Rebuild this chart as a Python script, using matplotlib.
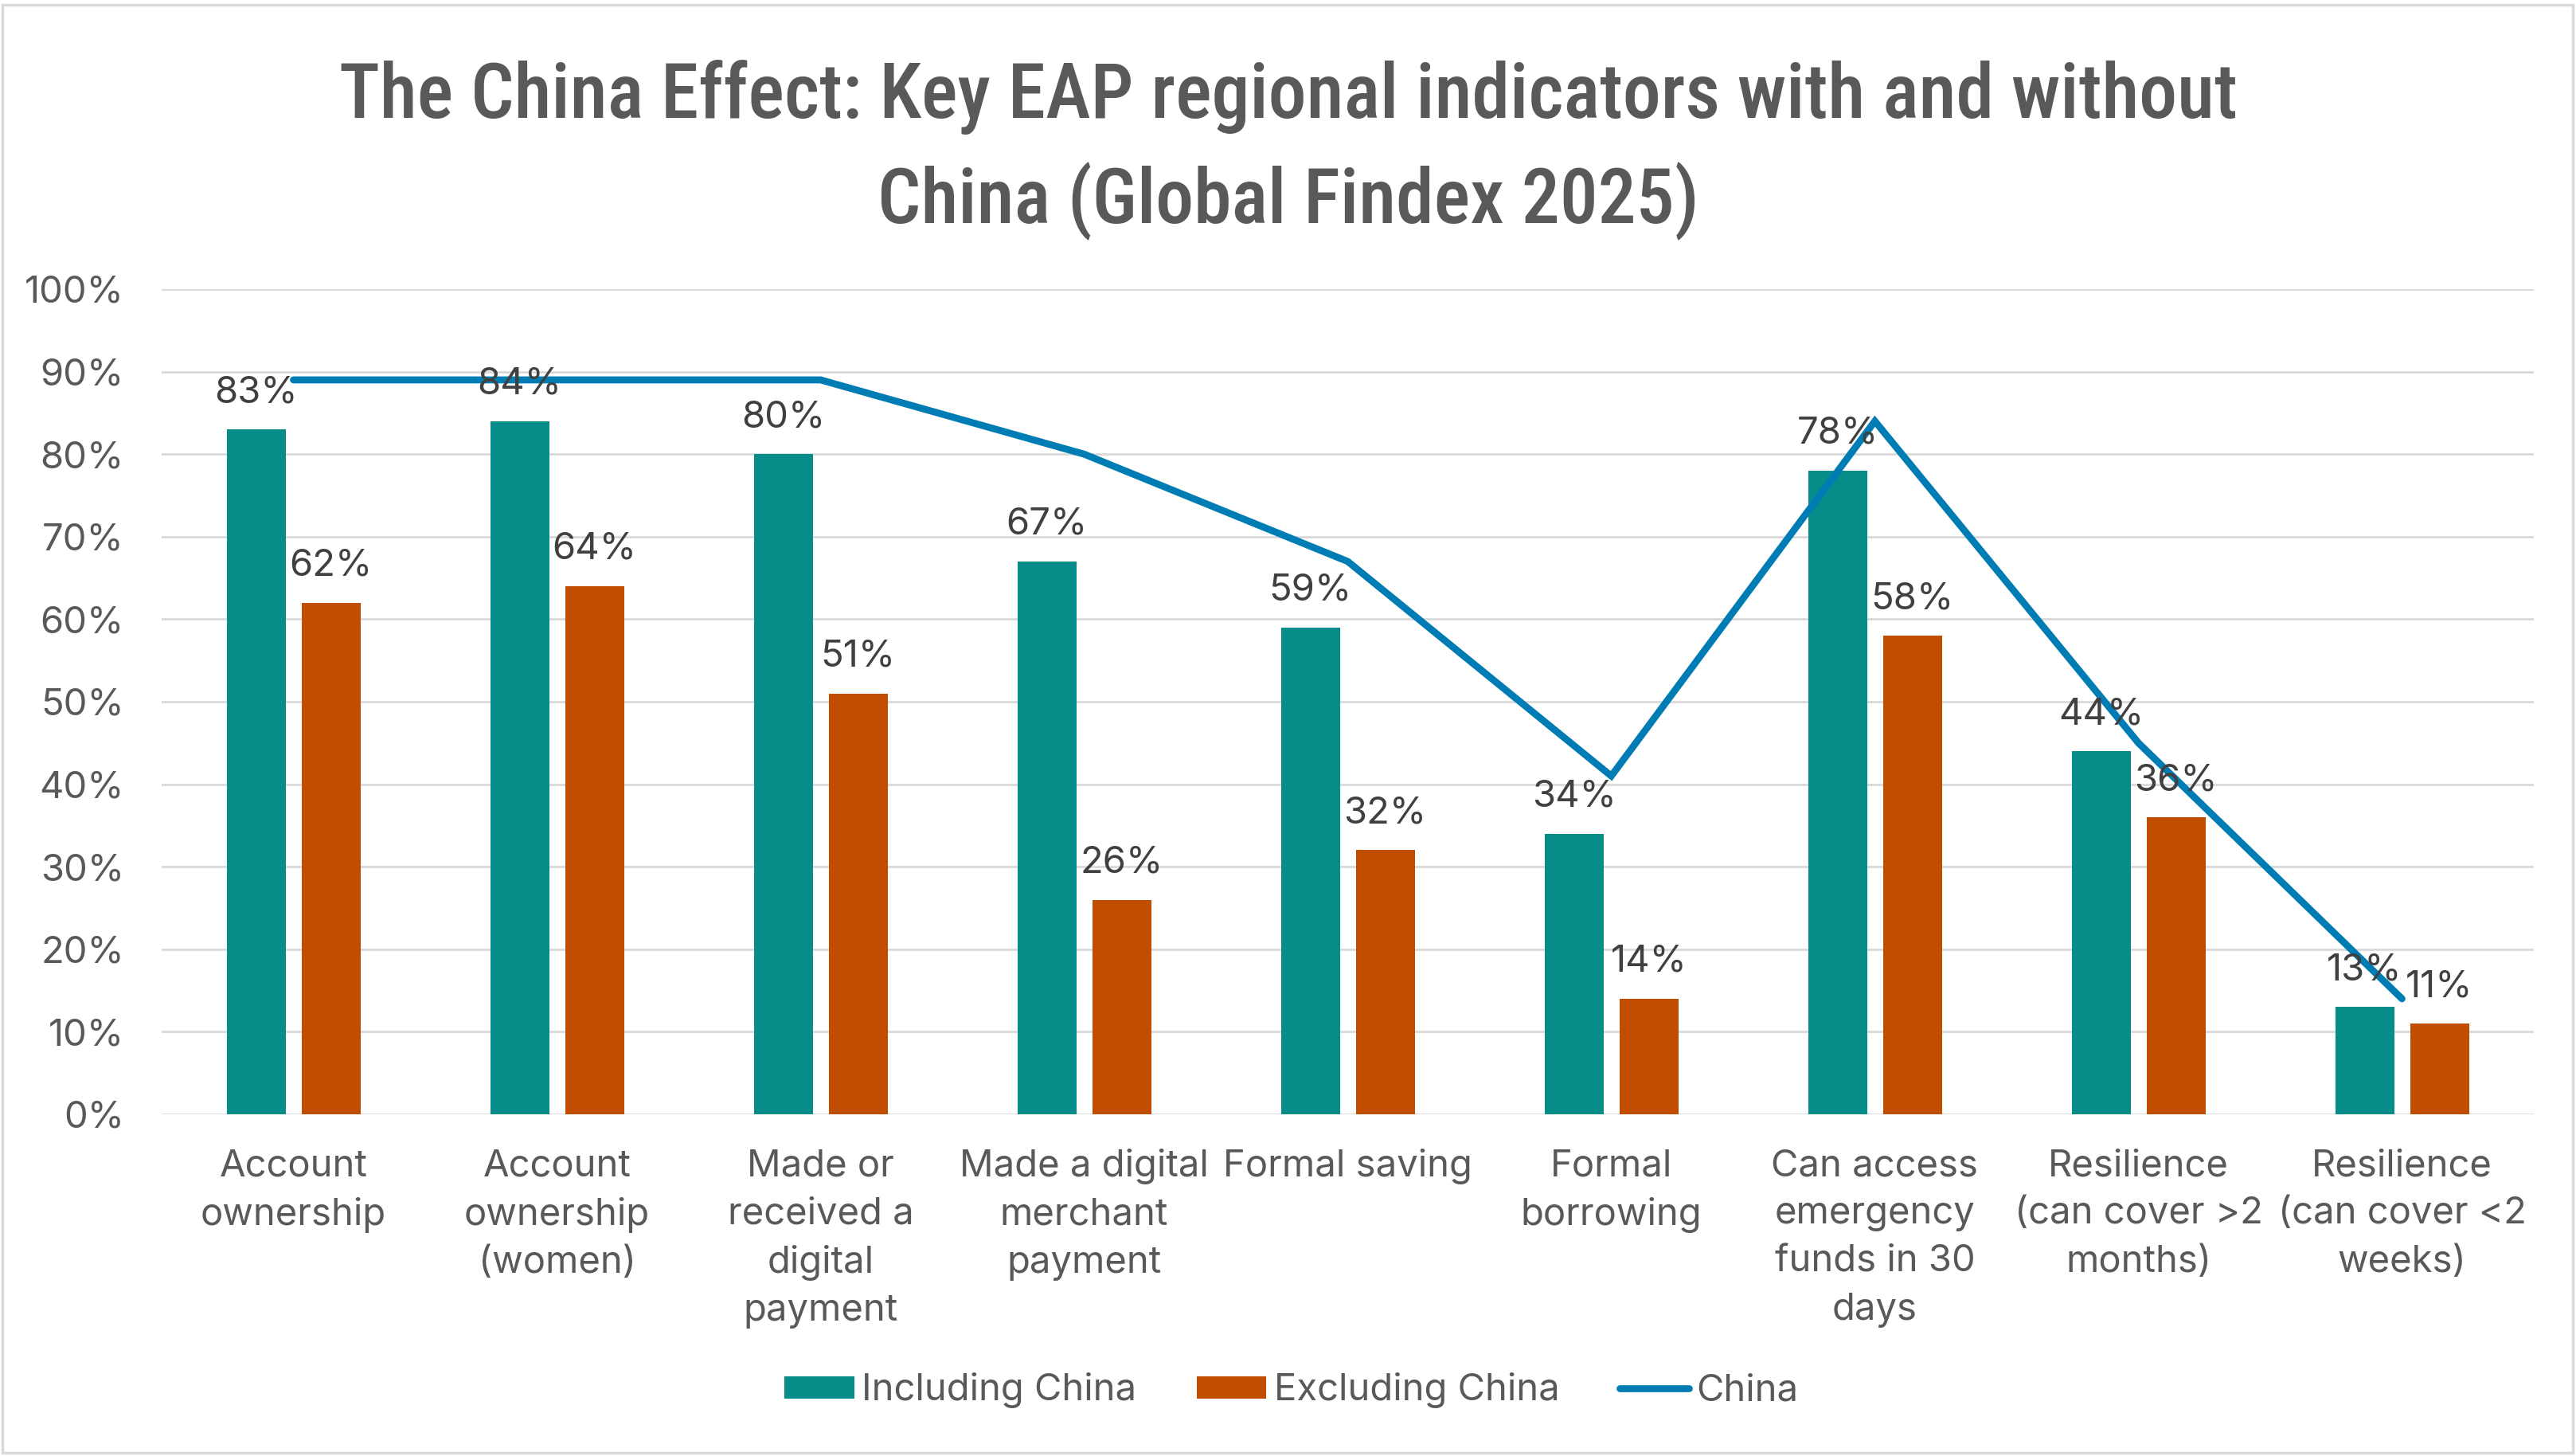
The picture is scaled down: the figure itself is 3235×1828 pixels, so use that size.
import os
import numpy as np
import matplotlib
matplotlib.use("Agg")
import matplotlib.pyplot as plt
from matplotlib import font_manager as fm
from matplotlib.patches import Patch, Rectangle
from matplotlib.lines import Line2D

# ---------------- data ----------------
categories = [
    "Account\nownership",
    "Account\nownership\n(women)",
    "Made or\nreceived a\ndigital\npayment",
    "Made a digital\nmerchant\npayment",
    "Formal saving",
    "Formal\nborrowing",
    "Can access\nemergency\nfunds in 30\ndays",
    "Resilience\n(can cover >2\nmonths)",
    "Resilience\n(can cover <2\nweeks)",
]
including_china = [83, 84, 80, 67, 59, 34, 78, 44, 13]
excluding_china = [62, 64, 51, 26, 32, 14, 58, 36, 11]
china = [89, 89, 89, 80, 67, 41, 84, 45, 14]
series_names = ["Including China", "Excluding China", "China"]
yticks = [0, 10, 20, 30, 40, 50, 60, 70, 80, 90, 100]
title_lines = ["The China Effect: Key EAP regional indicators with and without",
               "China (Global Findex 2025)"]

# ---------------- style ----------------
TEAL = "#068D89"
ORANGE = "#C04D00"
BLUE = "#007CB4"
GRID = "#D9D9D9"
TICK = "#595959"
LABEL = "#404040"
BODY_FONT = ["Inter", "DejaVu Sans"]
FS = 34
LW = 6.3

W, H = 3235, 1828
DPI = 100
fig = plt.figure(figsize=(W / DPI, H / DPI), dpi=DPI)
fig.patch.set_facecolor("white")

# outer border
fig.add_artist(Rectangle((3 / W, 4 / H), (W - 7) / W, (H - 10) / H,
                         transform=fig.transFigure, fill=False,
                         edgecolor=GRID, linewidth=2.5))

ax_l, ax_r = 203 / W, 3182 / W
ax_t, ax_b = 1 - 363 / H, 1 - 1399 / H
ax = fig.add_axes([ax_l, ax_b, ax_r - ax_l, ax_t - ax_b])

x = np.arange(len(categories))
bw = 74 / 331
off = 47 / 331

inc = np.array(including_china) / 100
exc = np.array(excluding_china) / 100
chn = np.array(china) / 100

ax.bar(x - off, inc, width=bw, color=TEAL, zorder=2)
ax.bar(x + off, exc, width=bw, color=ORANGE, zorder=2)
ax.plot(x, chn, color=BLUE, linewidth=LW, solid_capstyle="round",
        solid_joinstyle="miter", zorder=3)

for xi, v in zip(x - off, inc):
    ax.annotate(f"{int(round(v*100))}%", (xi, v), xytext=(0, 34),
                textcoords="offset pixels", ha="center", va="baseline",
                fontsize=FS, color=LABEL, family=BODY_FONT, zorder=4)
for xi, v in zip(x + off, exc):
    ax.annotate(f"{int(round(v*100))}%", (xi, v), xytext=(0, 34),
                textcoords="offset pixels", ha="center", va="baseline",
                fontsize=FS, color=LABEL, family=BODY_FONT, zorder=4)

ax.set_xlim(-0.5, len(categories) - 0.5)
ax.set_ylim(0, 1)
ax.set_yticks([t / 100 for t in yticks])
ax.set_yticklabels([f"{t}%" for t in yticks], fontsize=FS, color=TICK,
                   family=BODY_FONT)
ax.yaxis.grid(True, color=GRID, linewidth=2.0)
ax.set_axisbelow(True)
ax.tick_params(axis="y", length=0, pad=34)
ax.tick_params(axis="x", length=0, pad=31)
ax.set_xticks(x)
ax.set_xticklabels(categories, fontsize=FS, color=TICK, family=BODY_FONT,
                   linespacing=1.48)
for s in ax.spines.values():
    s.set_visible(False)
ax.set_facecolor("none")

# ---------------- title ----------------
def pick_title_font():
    prefs = ["robotocondensed-medium.ttf", "robotocondensed-semibold.ttf",
             "robotocondensed", "notosans-condensedmedium.ttf",
             "notosans-condensedsemibold.ttf", "notosans-condensed.ttf",
             "opensans-condensedsemibold.ttf", "opensans_condensed-semibold.ttf",
             "opensans-condensedmedium.ttf", "opensans-condensed",
             "liberationsansnarrow-regular.ttf", "liberationsansnarrow",
             "dejavusanscondensed.ttf"]
    files = sorted(set(f.fname for f in fm.fontManager.ttflist))
    for p in prefs:
        for fn in files:
            b = os.path.basename(fn).lower()
            if p in b and "italic" not in b and "oblique" not in b:
                return fm.FontProperties(fname=fn)
    for fn in files:
        b = os.path.basename(fn).lower()
        if ("condensed" in b or "narrow" in b) and not any(
                k in b for k in ("italic", "oblique", "black", "light", "thin")):
            return fm.FontProperties(fname=fn)
    return fm.FontProperties(family="DejaVu Sans")

tfp = pick_title_font()
renderer = fig.canvas.get_renderer()
t1 = fig.text(0.5, 1 - 148 / H, title_lines[0], ha="center", va="baseline",
              fontproperties=tfp, fontsize=80, color=TICK)
t2 = fig.text(0.5, 1 - 280 / H, title_lines[1], ha="center", va="baseline",
              fontproperties=tfp, fontsize=80, color=TICK)
w = t1.get_window_extent(renderer).width
fs = 80 * 2383 / w
fs = max(58, min(fs, 92))
t1.set_fontsize(fs)
t2.set_fontsize(fs)

# ---------------- legend ----------------
handles = [Patch(facecolor=TEAL, edgecolor="none"),
           Patch(facecolor=ORANGE, edgecolor="none"),
           Line2D([0], [0], color=BLUE, linewidth=LW, solid_capstyle="round")]
leg = fig.legend(handles, series_names, loc="center", ncol=3,
                 bbox_to_anchor=(1622 / W, 1 - 1746 / H), frameon=False,
                 prop=fm.FontProperties(family=BODY_FONT, size=FS),
                 handlelength=1.85, handleheight=0.55, handletextpad=0.2,
                 columnspacing=1.6, borderpad=0)
for t in leg.get_texts():
    t.set_color(TICK)

fig.savefig("out.png", dpi=DPI, facecolor="white")
